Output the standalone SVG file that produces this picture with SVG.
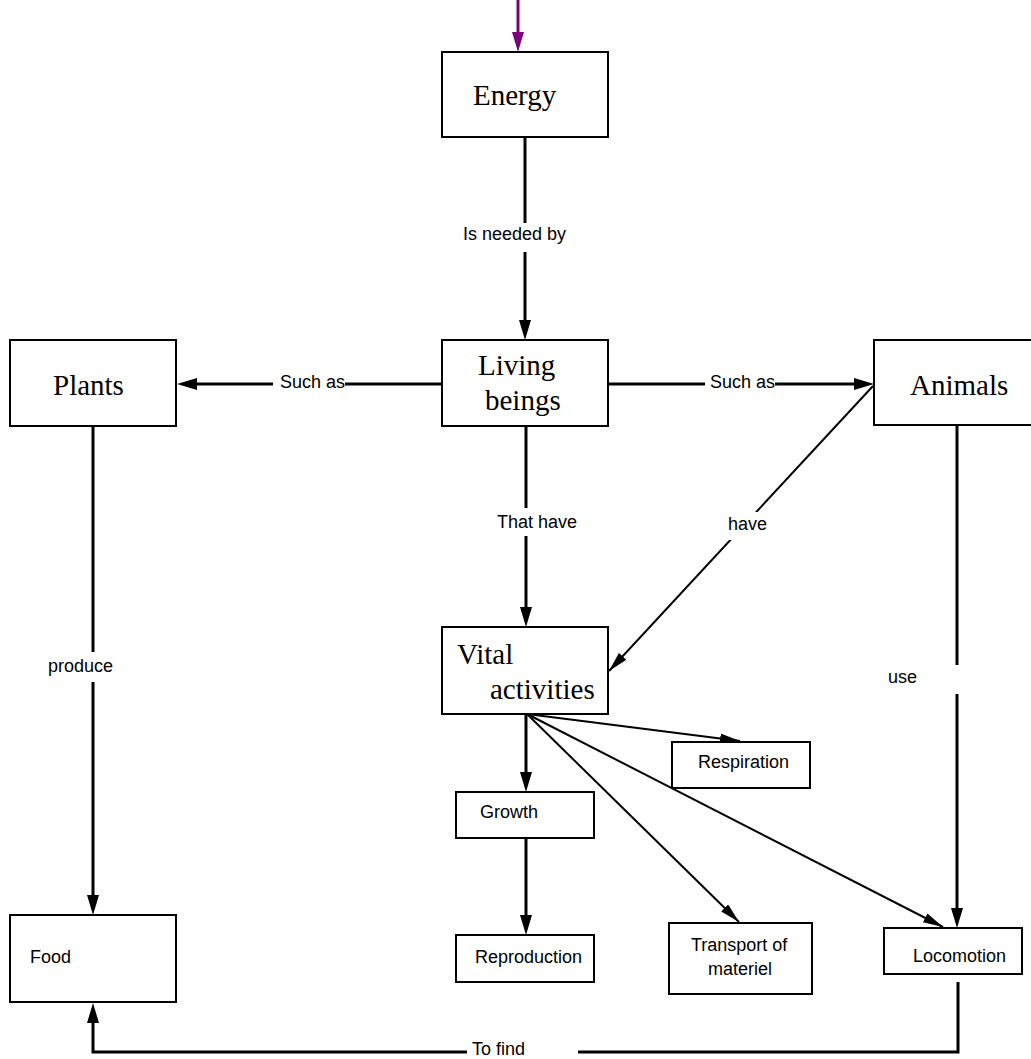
<svg xmlns="http://www.w3.org/2000/svg" width="1031" height="1059" viewBox="0 0 1031 1059">
  <style>
    .box { fill: #ffffff; stroke: #000000; stroke-width: 2; }
    .serif { font-family: "Liberation Serif", "Times New Roman", serif; font-size: 29px; fill: #000000; }
    .sans { font-family: "Liberation Sans", Arial, sans-serif; font-size: 18px; fill: #000000; }
    .thick { fill: none; stroke: #000000; stroke-width: 3; }
    .thin { fill: none; stroke: #000000; stroke-width: 2; }
    .lblbg { fill: #ffffff; stroke: none; }
  </style>
  <defs>
    <marker id="arrowThick" markerUnits="userSpaceOnUse" markerWidth="20" markerHeight="12" refX="10" refY="6" orient="auto">
      <path d="M0,0 L20,6 L0,12 z" fill="#000000"/>
    </marker>
    <marker id="arrowThin" markerUnits="userSpaceOnUse" markerWidth="20" markerHeight="10" refX="20" refY="5" orient="auto">
      <path d="M0,0 L20,5 L0,10 z" fill="#000000"/>
    </marker>
    <marker id="arrowPurple" markerUnits="userSpaceOnUse" markerWidth="20" markerHeight="12" refX="10" refY="6" orient="auto">
      <path d="M0,0 L20,6 L0,12 z" fill="#7f007f"/>
    </marker>
  </defs>

  <!-- connectors -->
  <g id="connectors">
    <line x1="518" y1="0" x2="518" y2="42" stroke="#7f007f" stroke-width="3" marker-end="url(#arrowPurple)"/>
    <line class="thick" x1="525" y1="137" x2="525" y2="330" marker-end="url(#arrowThick)"/>
    <line class="thick" x1="441" y1="384" x2="187" y2="384" marker-end="url(#arrowThick)"/>
    <line class="thick" x1="608" y1="384" x2="864" y2="384" marker-end="url(#arrowThick)"/>
    <line class="thick" x1="526" y1="426" x2="526" y2="617" marker-end="url(#arrowThick)"/>
    <line class="thin" x1="873" y1="386" x2="609" y2="671" marker-end="url(#arrowThin)"/>
    <line class="thick" x1="93" y1="426" x2="93" y2="905" marker-end="url(#arrowThick)"/>
    <line class="thick" x1="957" y1="425" x2="957" y2="918" marker-end="url(#arrowThick)"/>
    <line class="thick" x1="526" y1="714" x2="526" y2="782" marker-end="url(#arrowThick)"/>
    <line class="thick" x1="526" y1="838" x2="526" y2="925" marker-end="url(#arrowThick)"/>
    <line class="thin" x1="527" y1="714" x2="740" y2="741" marker-end="url(#arrowThin)"/>
    <line class="thin" x1="527" y1="714" x2="739" y2="922" marker-end="url(#arrowThin)"/>
    <line class="thin" x1="527" y1="714" x2="943" y2="927" marker-end="url(#arrowThin)"/>
    <polyline class="thick" points="958,982 958,1052 93,1052 93,1013" marker-end="url(#arrowThick)"/>

    <!-- connector labels -->
    <rect class="lblbg" x="461" y="223" width="109" height="29"/>
    <text class="sans" x="463" y="240">Is needed by</text>
    <rect class="lblbg" x="273" y="372" width="72" height="24"/>
    <text class="sans" x="280" y="388">Such as</text>
    <rect class="lblbg" x="705" y="372" width="70" height="24"/>
    <text class="sans" x="710" y="388">Such as</text>
    <rect class="lblbg" x="494" y="508" width="90" height="28"/>
    <text class="sans" x="497" y="528">That have</text>
    <rect class="lblbg" x="724" y="512" width="48" height="28"/>
    <text class="sans" x="728" y="530">have</text>
    <rect class="lblbg" x="44" y="652" width="76" height="30"/>
    <text class="sans" x="48" y="672">produce</text>
    <rect class="lblbg" x="885" y="665" width="77" height="29"/>
    <text class="sans" x="888" y="683">use</text>
    <rect class="lblbg" x="467" y="1040" width="111" height="19"/>
    <text class="sans" x="472" y="1055">To find</text>
  </g>

  <!-- nodes -->
  <g id="energy">
    <rect class="box" x="442" y="52" width="166" height="85"/>
    <text class="serif" x="473" y="105">Energy</text>
  </g>
  <g id="living-beings">
    <rect class="box" x="442" y="340" width="166" height="86"/>
    <text class="serif" x="478" y="375">Living</text>
    <text class="serif" x="485" y="410">beings</text>
  </g>
  <g id="plants">
    <rect class="box" x="10" y="340" width="166" height="86"/>
    <text class="serif" x="53" y="395">Plants</text>
  </g>
  <g id="animals">
    <rect class="box" x="874" y="340" width="166" height="85"/>
    <text class="serif" x="910" y="395">Animals</text>
  </g>
  <g id="vital-activities">
    <rect class="box" x="442" y="627" width="166" height="87"/>
    <text class="serif" x="457" y="664">Vital</text>
    <text class="serif" x="490" y="699">activities</text>
  </g>
  <g id="respiration">
    <rect class="box" x="672" y="742" width="138" height="46"/>
    <text class="sans" x="698" y="768">Respiration</text>
  </g>
  <g id="growth">
    <rect class="box" x="456" y="792" width="138" height="46"/>
    <text class="sans" x="480" y="818">Growth</text>
  </g>
  <g id="reproduction">
    <rect class="box" x="456" y="935" width="138" height="47"/>
    <text class="sans" x="475" y="963">Reproduction</text>
  </g>
  <g id="transport">
    <rect class="box" x="669" y="923" width="143" height="71"/>
    <text class="sans" x="691" y="951">Transport of</text>
    <text class="sans" x="708" y="975">materiel</text>
  </g>
  <g id="locomotion">
    <rect class="box" x="884" y="928" width="138" height="46"/>
    <text class="sans" x="913" y="962">Locomotion</text>
  </g>
  <g id="food">
    <rect class="box" x="10" y="915" width="166" height="87"/>
    <text class="sans" x="30" y="963">Food</text>
  </g>
</svg>
